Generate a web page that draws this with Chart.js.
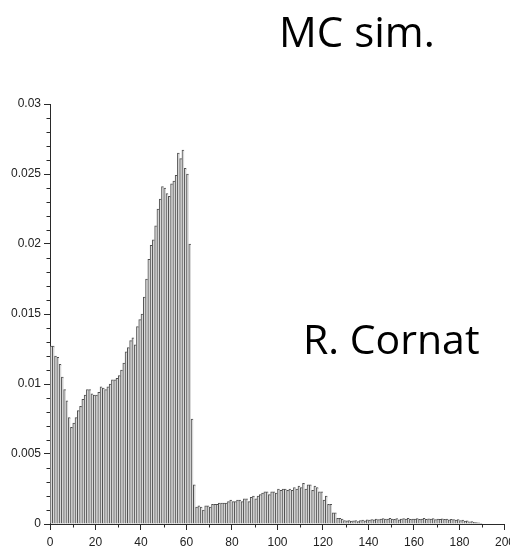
<!DOCTYPE html>
<html>
<head>
<meta charset="utf-8">
<script src="https://cdn.jsdelivr.net/npm/chart.js@4/dist/chart.umd.min.js"></script>
<style>
  html, body { margin: 0; padding: 0; background: #fff; overflow: hidden; width: 510px; height: 552px; }
  #wrap { position: absolute; left: 0; top: 0; width: 520px; height: 552px; }
  canvas { position: absolute; left: 0; top: 0; }
  .note { position: absolute; font-family: 'Open Sans', 'Noto Sans', sans-serif; color: #000; line-height: 1; white-space: nowrap; }
</style>
</head>
<body>
<div id="wrap">
  <canvas id="c" width="520" height="552"></canvas>
  <div class="note" style="left:279px; top:10px; font-size:42px;">MC sim.</div>
  <div class="note" style="left:303px; top:318px; font-size:41px;">R. Cornat</div>
</div>
<script>
// ---- data (histogram, 1-unit bins starting at 0) ----
const binStart = 0;
const binWidth = 1;
// bins 0..43 : low-energy part
const countsLow = [
  0.0127, 0.0127, 0.0120, 0.0119, 0.0114, 0.0105, 0.0096, 0.0088, 0.0076, 0.0069,
  0.0072, 0.0076, 0.0081, 0.0084, 0.0089, 0.0092, 0.0096, 0.0096, 0.0093, 0.0092,
  0.0092, 0.0094, 0.0098, 0.0097, 0.0096, 0.0098, 0.0100, 0.0103, 0.0103, 0.0104,
  0.0106, 0.0110, 0.0115, 0.0123, 0.0126, 0.0131, 0.0133, 0.0128, 0.0141, 0.0146,
  0.0150, 0.0162, 0.0175, 0.0189
];
// bins 44..63 : main peak and edge
const countsPeak = [
  0.0199, 0.0203, 0.0213, 0.0225, 0.0232, 0.0241, 0.0240, 0.0236, 0.0234, 0.0243,
  0.0245, 0.0249, 0.0265, 0.0261, 0.0267, 0.0254, 0.0250, 0.0200, 0.0075, 0.0028
];
// bins 64..127 : plateau / bump
const countsBump = [
  0.0012, 0.0013, 0.0012, 0.0010, 0.0013, 0.0013, 0.0012, 0.0014, 0.0014, 0.0014,
  0.0015, 0.0015, 0.0015, 0.0015, 0.0016, 0.0017, 0.0016, 0.0016, 0.0017, 0.0017,
  0.0016, 0.0018, 0.0018, 0.0016, 0.0019, 0.0020, 0.0018, 0.0020, 0.0021, 0.0022,
  0.0023, 0.0023, 0.0021, 0.0023, 0.0023, 0.0022, 0.0025, 0.0024, 0.0025, 0.0025,
  0.0024, 0.0025, 0.0024, 0.0026, 0.0025, 0.0027, 0.0026, 0.0029, 0.0025, 0.0028,
  0.0028, 0.0024, 0.0027, 0.0026, 0.0023, 0.0023, 0.0017, 0.0020, 0.0014, 0.0014,
  0.0008, 0.0008, 0.0004, 0.0004
];
// bins 128..189 : tail
const countsTail = [
  0.00035, 0.00025, 0.00022, 0.00025, 0.00020, 0.00022, 0.00025, 0.00018, 0.00025, 0.00028,
  0.00022, 0.00030, 0.00028, 0.00032, 0.00030, 0.00035, 0.00032, 0.00035, 0.00038, 0.00035,
  0.00036, 0.00040, 0.00036, 0.00033, 0.00038, 0.00030, 0.00035, 0.00038, 0.00035, 0.00040,
  0.00033, 0.00036, 0.00035, 0.00038, 0.00033, 0.00036, 0.00040, 0.00034, 0.00037, 0.00035,
  0.00038, 0.00032, 0.00036, 0.00034, 0.00037, 0.00033, 0.00035, 0.00030, 0.00034, 0.00032,
  0.00028, 0.00032, 0.00025, 0.00028, 0.00020, 0.00022, 0.00015, 0.00018, 0.00012, 0.00010,
  0.00008, 0.00005
];
// ticks
const xTickValues = [0, 20, 40, 60, 80, 100, 120, 140, 160, 180, 200];
const xMinorTicks = [10, 30, 50, 70, 90, 110, 130, 150, 170, 190];
const yTickLabels = ['0', '0.005', '0.01', '0.015', '0.02', '0.025', '0.03'];
const yMinorTicks = [0.001, 0.002, 0.003, 0.004, 0.006, 0.007, 0.008, 0.009,
  0.011, 0.012, 0.013, 0.014, 0.016, 0.017, 0.018, 0.019,
  0.021, 0.022, 0.023, 0.024, 0.026, 0.027, 0.028, 0.029];

const counts = [].concat(countsLow, countsPeak, countsBump, countsTail);
const points = counts.map((v, i) => ({ x: binStart + (i + 0.5) * binWidth, y: v }));

const axisColor = '#2a2a2a';
const tickFont = { family: "'Liberation Sans Narrow', 'Arial Narrow', 'Liberation Sans', sans-serif", size: 12 };

const minorTickPlugin = {
  id: 'minorTicks',
  afterDraw(chart) {
    const { ctx } = chart;
    const x = chart.scales.x, y = chart.scales.y;
    ctx.save();
    ctx.strokeStyle = axisColor;
    ctx.lineWidth = 1;
    ctx.beginPath();
    xMinorTicks.forEach(v => {
      const px = Math.round(x.getPixelForValue(v)) + 0.5;
      ctx.moveTo(px, y.bottom);
      ctx.lineTo(px, y.bottom + 3.5);
    });
    yMinorTicks.forEach(v => {
      const py = Math.round(y.getPixelForValue(v)) + 0.5;
      ctx.moveTo(x.left - 3.5, py);
      ctx.lineTo(x.left, py);
    });
    ctx.stroke();
    ctx.restore();
  }
};

new Chart(document.getElementById('c'), {
  type: 'bar',
  data: {
    datasets: [{
      data: points,
      backgroundColor: '#d9d9d9',
      borderColor: '#505050',
      borderWidth: { top: 1, left: 1, right: 0, bottom: 0 },
      borderSkipped: false,
      barPercentage: 1,
      categoryPercentage: 1
    }]
  },
  options: {
    responsive: false,
    animation: false,
    devicePixelRatio: 1,
    layout: { padding: { top: 104, right: 12, bottom: 0, left: 0 } },
    plugins: { legend: { display: false }, tooltip: { enabled: false }, title: { display: false } },
    scales: {
      x: {
        type: 'linear',
        min: 0,
        max: 200,
        offset: false,
        afterBuildTicks: s => { s.ticks = xTickValues.map(v => ({ value: v })); },
        grid: { display: true, drawOnChartArea: false, drawTicks: true, tickLength: 6, color: axisColor, offset: false },
        border: { display: true, color: axisColor, width: 1 },
        ticks: { autoSkip: false, maxRotation: 0, padding: 5, color: '#222', font: tickFont,
                 callback: v => String(v) },
        afterFit: s => { s.height = 28; }
      },
      y: {
        min: 0,
        max: 0.03,
        afterBuildTicks: s => { s.ticks = yTickLabels.map(l => ({ value: parseFloat(l) })); },
        grid: { display: true, drawOnChartArea: false, drawTicks: true, tickLength: 6, color: axisColor },
        border: { display: true, color: axisColor, width: 1 },
        ticks: { padding: 3, color: '#222', font: tickFont,
                 callback: (v, i) => yTickLabels[i] },
        afterFit: s => { s.width = 50; }
      }
    }
  },
  plugins: [minorTickPlugin]
});
</script>
</body>
</html>
